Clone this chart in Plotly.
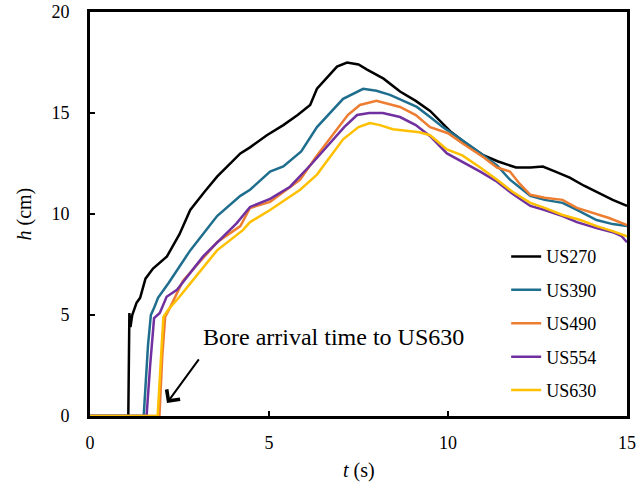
import plotly.graph_objects as go

series_names = ["US270", "US390", "US490", "US554", "US630"]
series_colors = ["#000000", "#1F6E8E", "#ED7D31", "#7030A0", "#FFC000"]

t_us270 = [0, 1.07, 1.10, 1.13, 1.18, 1.30, 1.40, 1.55, 1.76, 2.15, 2.5, 2.8, 3.2, 3.55, 4.2, 4.47, 4.94, 5.4, 5.8,
           6.15, 6.34, 6.9, 7.18, 7.5, 7.74, 8.2, 8.66, 9.1, 9.5, 10.06, 10.5, 11.0, 11.4, 11.9, 12.3, 12.65, 13.0,
           13.4, 13.8, 14.2, 14.6, 15.0]
h_us270 = [0, 0, 5.1, 4.4, 5.0, 5.6, 5.85, 6.8, 7.3, 7.9, 9.0, 10.2, 11.1, 11.85, 13.0, 13.3, 13.9, 14.4, 14.9,
           15.4, 16.2, 17.3, 17.5, 17.4, 17.15, 16.7, 16.06, 15.6, 15.1, 14.1, 13.5, 12.9, 12.6, 12.3, 12.3, 12.35,
           12.1, 11.8, 11.4, 11.05, 10.7, 10.4]

t_us390 = [0, 1.5, 1.62, 1.70, 1.8, 1.9, 2.2, 2.8, 3.55, 4.2, 4.47, 5.03, 5.4, 5.9, 6.34, 6.7, 7.07, 7.63, 8.0,
           8.38, 9.13, 9.5, 9.86, 10.6, 11.0, 11.37, 11.73, 12.3, 12.7, 13.2, 13.6, 14.15, 14.6, 15.0]
h_us390 = [0, 0, 3.5, 5.0, 5.4, 5.85, 6.6, 8.2, 9.9, 10.9, 11.2, 12.1, 12.35, 13.1, 14.3, 15.0, 15.7, 16.2, 16.1,
           15.9, 15.3, 14.8, 14.3, 13.4, 12.9, 12.4, 11.7, 10.9, 10.7, 10.55, 10.2, 9.7, 9.5, 9.4]

t_us490 = [0, 1.94, 2.02, 2.1, 2.23, 2.6, 3.0, 3.55, 4.2, 4.47, 5.03, 5.87, 6.3, 6.8, 7.2, 7.54, 8.0, 8.66, 9.1,
           9.5, 10.0, 10.4, 11.0, 11.37, 11.73, 12.0, 12.3, 12.7, 13.2, 13.6, 13.97, 14.5, 15.0]
h_us490 = [0, 0, 3.0, 4.9, 5.35, 6.7, 7.5, 8.6, 9.4, 10.3, 10.6, 11.7, 12.8, 14.0, 14.9, 15.4, 15.6, 15.3, 14.9,
           14.3, 14.0, 13.5, 12.8, 12.3, 12.1, 11.5, 10.95, 10.8, 10.7, 10.3, 10.1, 9.8, 9.45]

t_us554 = [0, 1.58, 1.68, 1.79, 1.95, 2.14, 2.43, 3.16, 4.1, 4.47, 5.03, 5.59, 6.2, 6.8, 7.1, 7.46, 7.8, 8.18,
           8.66, 9.1, 9.5, 9.97, 10.4, 10.9, 11.37, 11.8, 12.3, 12.7, 13.2, 13.6, 14.15, 14.6, 14.85, 15.0]
h_us554 = [0, 0, 2.5, 4.85, 5.1, 5.9, 6.25, 7.9, 9.55, 10.35, 10.75, 11.35, 12.5, 13.7, 14.3, 14.9, 15.0, 15.0,
           14.8, 14.4, 13.85, 13.0, 12.6, 12.1, 11.6, 11.0, 10.4, 10.2, 9.9, 9.6, 9.3, 9.1, 8.9, 8.6]

t_us630 = [0, 1.89, 1.97, 2.05, 2.18, 2.5, 3.0, 3.55, 4.27, 4.47, 5.03, 5.87, 6.34, 6.7, 7.07, 7.5, 7.82, 8.1,
           8.46, 9.2, 9.5, 9.97, 10.4, 10.9, 11.37, 11.8, 12.3, 12.7, 13.2, 13.7, 14.15, 14.6, 15.0]
h_us630 = [0, 0, 2.5, 4.9, 5.25, 5.9, 7.0, 8.2, 9.2, 9.6, 10.2, 11.2, 11.95, 12.8, 13.7, 14.3, 14.5, 14.4, 14.2,
           14.05, 13.9, 13.2, 12.9, 12.3, 11.7, 11.1, 10.55, 10.3, 9.95, 9.7, 9.4, 9.15, 8.9]

x_ticks = [0, 5, 10, 15]
y_ticks = [0, 5, 10, 15, 20]
annotation_text = "Bore arrival time to US630"
arrow_head = (2.15, 0.64)
arrow_tail = (3.07, 2.88)
text_pos = (3.11, 3.92)

all_t = [t_us270, t_us390, t_us490, t_us554, t_us630]
all_h = [h_us270, h_us390, h_us490, h_us554, h_us630]

FONT = "'Liberation Serif', 'Times New Roman', serif"

fig = go.Figure()
for name, color, tt, hh in zip(series_names, series_colors, all_t, all_h):
    fig.add_trace(go.Scatter(x=tt, y=hh, mode="lines", name=name, legendgroup=name,
                             line=dict(color=color, width=2.5)))

axis_common = dict(showgrid=False, zeroline=False, showline=True, linecolor="black", linewidth=3,
                   mirror=True, ticks="inside", ticklen=5, tickwidth=2, tickcolor="black",
                   tickfont=dict(family=FONT, size=18, color="black"), layer="below traces",
                   automargin=False)

fig.update_layout(
    width=636, height=486,
    margin=dict(l=90, r=9, t=12, b=70),
    paper_bgcolor="white", plot_bgcolor="white",
    font=dict(family=FONT, size=18, color="black"),
    xaxis=dict(range=[0, 15], tickvals=x_ticks, ticklabelstandoff=8, **axis_common),
    yaxis=dict(range=[0, 20], tickvals=y_ticks, ticklabelstandoff=14, **axis_common),
    legend=dict(x=0.775, y=0.44, xanchor="left", yanchor="top", traceorder="grouped",
                tracegroupgap=7, bgcolor="rgba(0,0,0,0)",
                font=dict(family=FONT, size=18, color="black")),
    showlegend=True,
)

fig.add_annotation(x=arrow_head[0], y=arrow_head[1], ax=arrow_tail[0], ay=arrow_tail[1],
                   xref="x", yref="y", axref="x", ayref="y", text="", showarrow=True,
                   arrowhead=4, arrowsize=1.6, arrowwidth=2, arrowcolor="black")
fig.add_annotation(x=text_pos[0], y=text_pos[1], xref="x", yref="y", text=annotation_text,
                   showarrow=False, xanchor="left", yanchor="middle",
                   font=dict(family=FONT, size=24, color="black"))
fig.add_annotation(x=-0.122, y=0.5, xref="paper", yref="paper", text="<i>h</i> (cm)", textangle=-90,
                   showarrow=False, xanchor="center", yanchor="middle",
                   font=dict(family=FONT, size=20, color="black"))
fig.add_annotation(x=0.5, y=-0.134, xref="paper", yref="paper", text="<i>t</i> (s)",
                   showarrow=False, xanchor="center", yanchor="middle",
                   font=dict(family=FONT, size=20, color="black"))

fig.write_html("out.html")
